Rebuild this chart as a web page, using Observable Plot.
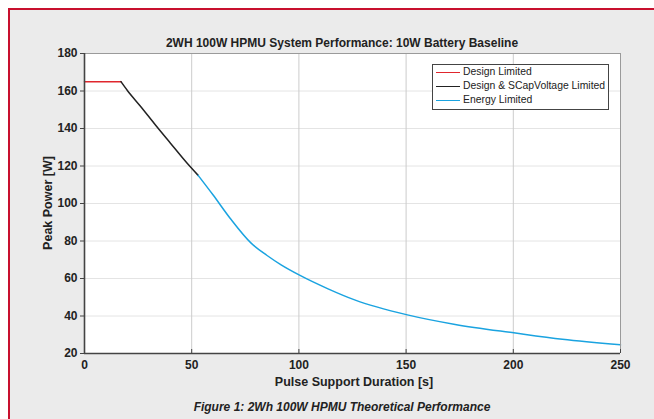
<!DOCTYPE html>
<html><head><meta charset="utf-8">
<script src="https://cdn.jsdelivr.net/npm/d3@7"></script>
<script src="https://cdn.jsdelivr.net/npm/@observablehq/plot@0.6"></script>
<style>
body{margin:0;background:#fff;}
#fig{position:relative;width:654px;height:419px;overflow:hidden;font-family:"Liberation Sans",Arial,Helvetica,sans-serif;color:#222;}
#panel{position:absolute;left:8px;top:8px;right:0;bottom:0;background:#ebebeb;border-top:2px solid #c8102e;border-left:2px solid #c8102e;}
#chart{position:absolute;left:0;top:0;}
.t{position:absolute;white-space:nowrap;transform:translate(-50%,-50%);font-weight:bold;font-size:12px;line-height:1;}
#legend{position:absolute;left:432px;top:64px;width:175px;height:44px;background:#fff;border:1px solid #444;}
.row{position:absolute;left:3px;height:14px;display:flex;align-items:center;font-size:10.4px;white-space:nowrap;line-height:1;}
.sw{width:24px;height:0;border-top:1.6px solid;margin-right:3px;flex:none;}
</style></head>
<body>
<div id="fig">
  <div id="panel"></div>
  <div id="chart"></div>
  <div class="t" id="title" style="left:342px;top:43px;">2WH 100W HPMU System Performance: 10W Battery Baseline</div>
  <div class="t" style="left:354px;top:382px;font-size:12.5px;">Pulse Support Duration [s]</div>
  <div class="t" style="left:48px;top:203px;font-size:12.5px;transform:translate(-50%,-50%) rotate(-90deg);">Peak Power [W]</div>
  <div class="t" style="left:342px;top:407px;font-style:italic;">Figure 1: 2Wh 100W HPMU Theoretical Performance</div>
  <div id="legend"></div>
</div>
<script>
const durationDesign = [0, 17];
const powerDesign = [165, 165];
const durationSCap = [17, 20, 26, 33, 40, 48, 53];
const powerSCap = [165, 160.3, 152, 142, 132.3, 121.3, 115];
const durationEnergy = [53, 60, 68, 77.6, 85, 91.7, 100.3, 113.6, 126, 150.6, 172.9, 201, 222.9, 250];
const powerEnergy = [115, 104.5, 92, 79, 72.4, 67.3, 61.8, 54.5, 48.6, 40.6, 35.5, 30.9, 27.6, 24.6];
const seriesNames = ["Design Limited", "Design & SCapVoltage Limited", "Energy Limited"];
const seriesColors = ["#e0262d", "#222222", "#1aa3e0"];
const xTicks = [0, 50, 100, 150, 200, 250];
const yTicks = [20, 40, 60, 80, 100, 120, 140, 160, 180];

const rows = [];
[[durationDesign, powerDesign], [durationSCap, powerSCap], [durationEnergy, powerEnergy]].forEach(([ts, ps], i) => {
  ts.forEach((t, j) => rows.push({series: seriesNames[i], t, p: ps[j]}));
});

const plot = Plot.plot({
  width: 654, height: 419,
  marginLeft: 84, marginRight: 34, marginTop: 53, marginBottom: 66,
  style: {background: "transparent", fontFamily: "'Liberation Sans', Arial, sans-serif", fontSize: "12px", fontWeight: "bold", color: "#222"},
  x: {domain: [0, 250], ticks: xTicks},
  y: {domain: [20, 180], ticks: yTicks},
  color: {domain: seriesNames, range: seriesColors},
  marks: [
    Plot.frame({fill: "white", stroke: null}),
    Plot.ruleY(yTicks.slice(1, -1), {stroke: "#e4e4e4"}),
    Plot.ruleX(xTicks.slice(1, -1), {stroke: "#cccccc"}),
    Plot.line(rows, {x: "t", y: "p", z: "series", stroke: "series", strokeWidth: 1.5, curve: "monotone-x"}),
    Plot.ruleY([180], {stroke: "#9a9a9a"}),
    Plot.ruleX([250], {stroke: "#9a9a9a"}),
    Plot.tickX(xTicks, {x: d => d, insetTop: 296, stroke: "#444"}),
    Plot.axisX({ticks: xTicks, tickSize: 0, tickPadding: 7, label: null, fill: "#222"}),
    Plot.axisY({ticks: yTicks, tickSize: 4, tickPadding: 3, label: null, stroke: "#444", fill: "#222"}),
    Plot.ruleY([20], {stroke: "#444", strokeWidth: 1.6}),
    Plot.ruleX([0], {stroke: "#444", strokeWidth: 1.6})
  ]
});
document.getElementById("chart").appendChild(plot);

const legend = document.getElementById("legend");
seriesNames.forEach((name, i) => {
  const r = document.createElement("div");
  r.className = "row";
  r.style.top = (0 + i * 14.3) + "px";
  const sw = document.createElement("div");
  sw.className = "sw";
  sw.style.borderTopColor = seriesColors[i];
  const tx = document.createElement("span");
  tx.textContent = name;
  r.appendChild(sw); r.appendChild(tx);
  legend.appendChild(r);
});
</script>
</body></html>
